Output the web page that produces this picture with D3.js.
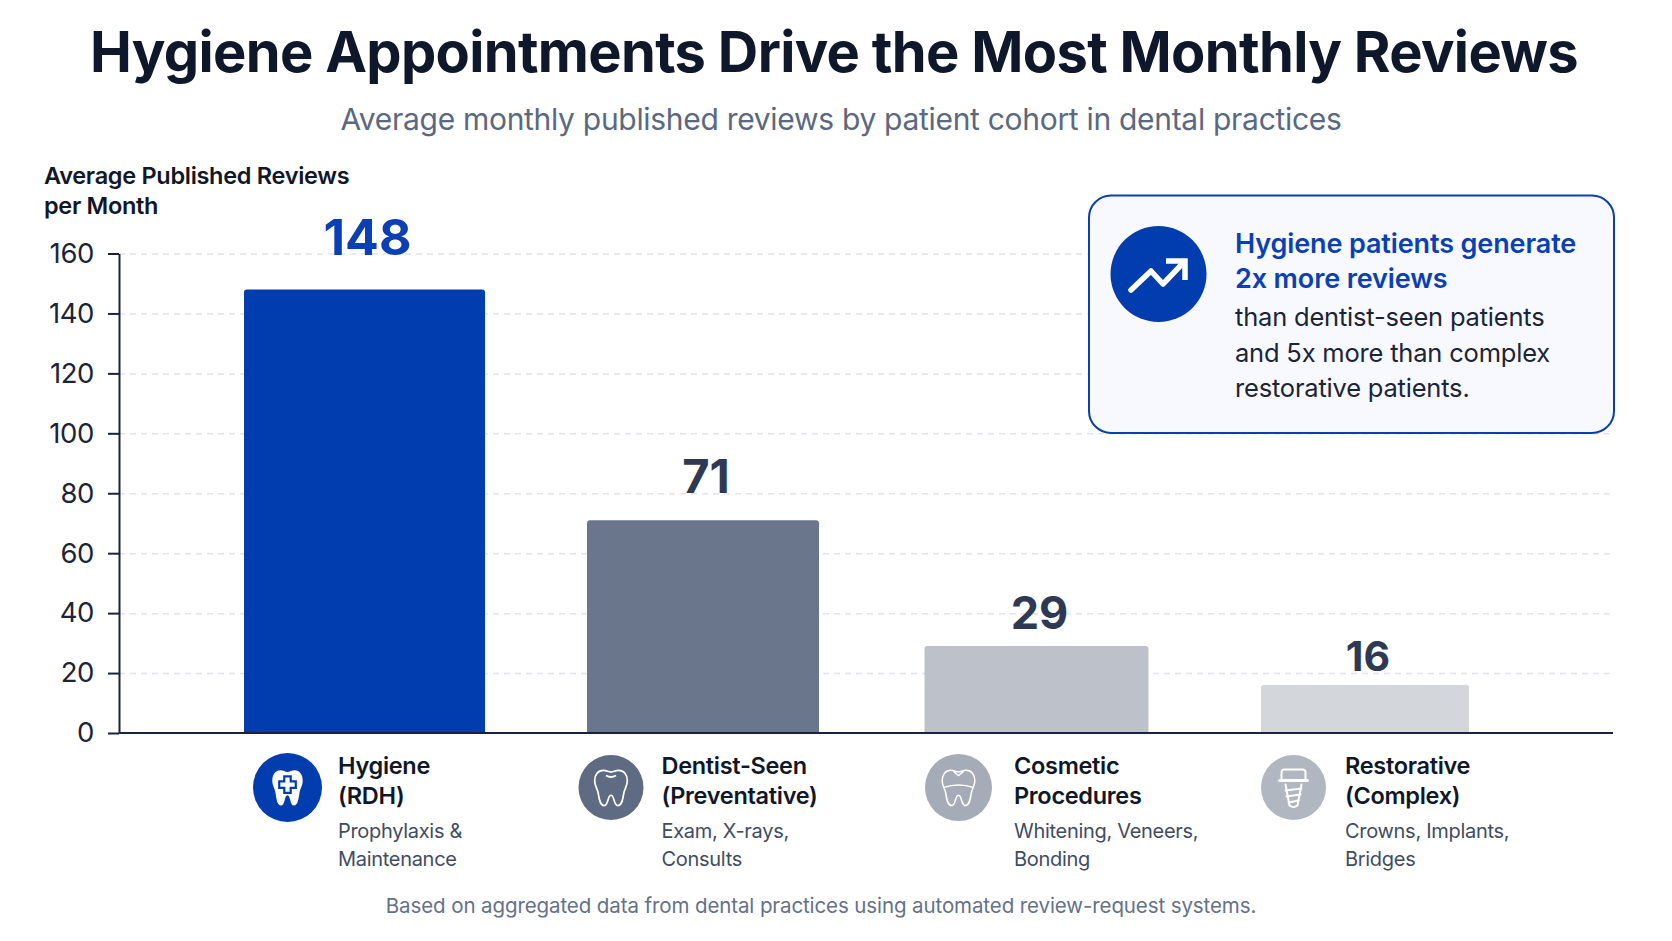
<!DOCTYPE html>
<html>
<head>
<meta charset="utf-8">
<script src="https://cdnjs.cloudflare.com/ajax/libs/d3/7.9.0/d3.min.js"></script>
<style>
  html, body { margin: 0; padding: 0; background: #fff; }
  svg { display: block; font-family: Inter, "Noto Sans", sans-serif; }
</style>
</head>
<body>
<svg id="chart" width="1672" height="941"></svg>
<script>
// Cohort data
const categories = ["Hygiene", "Dentist-Seen", "Cosmetic", "Restorative"];
const reviews = [148, 71, 29, 16];
const nameLines = [["Hygiene", "(RDH)"], ["Dentist-Seen", "(Preventative)"], ["Cosmetic", "Procedures"], ["Restorative", "(Complex)"]];
const detailLines = [["Prophylaxis &", "Maintenance"], ["Exam, X-rays,", "Consults"], ["Whitening, Veneers,", "Bonding"], ["Crowns, Implants,", "Bridges"]];
const yTicks = [0, 20, 40, 60, 80, 100, 120, 140, 160];

// Per-cohort presentation
const barColors = ["#023db0", "#69768c", "#bdc2ca", "#d3d6da"];
const badgeColors = ["#023db0", "#5f6b82", "#a5acb7", "#b1b7c0"];
const labelColors = ["#0b3fb6", "#2e3a55", "#2e3a55", "#2e3a55"];
const labelSizes = [50, 47, 45, 41];
const labelGaps = [34, 27, 17, 14];
const barWidths = [241, 232, 224, 208];
const barCenters = [364.5, 703, 1036.5, 1365];
const badgeCenters = [287.5, 611, 958.5, 1293.5];
const badgeRadii = [34.5, 32.5, 33.5, 32.5];
const textLefts = [338, 661.5, 1014, 1345];

const svg = d3.select("#chart");
const plotLeft = 119, plotRight = 1613, plotTop = 253.5, plotBottom = 733;
const ink = "#0f172a";

const y = d3.scaleLinear().domain([0, 160]).range([plotBottom, plotTop]);
const x = d3.scaleOrdinal().domain(categories).range(barCenters);
const idx = c => categories.indexOf(c);

// Headings
svg.append("text").attr("x", 834).attr("y", 72).attr("text-anchor", "middle")
  .attr("font-size", 56).attr("font-weight", 700).attr("letter-spacing", -0.67).attr("fill", ink)
  .text("Hygiene Appointments Drive the Most Monthly Reviews");
svg.append("text").attr("x", 841).attr("y", 129.5).attr("text-anchor", "middle")
  .attr("font-size", 30).attr("font-weight", 400).attr("letter-spacing", -0.3).attr("fill", "#5a6881")
  .text("Average monthly published reviews by patient cohort in dental practices");

// Axis title
svg.append("g").attr("font-size", 23.5).attr("font-weight", 600).attr("letter-spacing", -0.3).attr("fill", ink)
  .selectAll("text").data(["Average Published Reviews", "per Month"]).join("text")
  .attr("x", 44).attr("y", (d, i) => 184 + i * 30).text(d => d);

// Dashed gridlines
const grid = svg.append("g").attr("transform", `translate(${plotLeft},0)`)
  .call(d3.axisRight(y).tickValues(yTicks.slice(1)).tickSize(plotRight - plotLeft).tickFormat(""));
grid.select(".domain").remove();
grid.selectAll("line").attr("stroke", "#e1e4e9").attr("stroke-width", 1.5).attr("stroke-dasharray", "6 5");

// Bars with softly rounded top corners
const r = 3;
svg.append("g").selectAll("path").data(categories).join("path")
  .attr("fill", c => barColors[idx(c)])
  .attr("d", c => {
    const i = idx(c), w = barWidths[i], x0 = x(c) - w / 2, t = y(reviews[i]);
    return `M${x0},${plotBottom}V${t + r}Q${x0},${t} ${x0 + r},${t}H${x0 + w - r}Q${x0 + w},${t} ${x0 + w},${t + r}V${plotBottom}Z`;
  });

// Value labels
svg.append("g").attr("text-anchor", "middle").attr("font-weight", 700)
  .selectAll("text").data(categories).join("text")
  .attr("x", c => x(c) + 3)
  .attr("y", c => y(reviews[idx(c)]) - labelGaps[idx(c)])
  .attr("font-size", c => labelSizes[idx(c)])
  .attr("fill", c => labelColors[idx(c)])
  .text(c => reviews[idx(c)]);

// Left axis and baseline
const axis = svg.append("g").attr("transform", `translate(${plotLeft},0)`)
  .call(d3.axisLeft(y).tickValues(yTicks).tickSize(11).tickPadding(14).tickSizeOuter(0));
axis.select(".domain").attr("stroke", "#1b2240").attr("stroke-width", 2);
axis.selectAll("line").attr("stroke", "#1b2240").attr("stroke-width", 2);
axis.selectAll("text").attr("font-size", 27.5).attr("font-family", "Inter, sans-serif").attr("letter-spacing", -0.4).attr("fill", "#1c2438");
svg.append("line").attr("x1", plotLeft).attr("x2", plotRight).attr("y1", plotBottom).attr("y2", plotBottom)
  .attr("stroke", "#1b2240").attr("stroke-width", 2);

// Tooth outline on a 40 x 44 box centred at the origin
const toothPath = "M-9,-20C-15,-20 -19,-15 -19,-8C-19,-2 -16,1 -15,6C-14,12 -13,21 -8,21C-3,21 -4,9 0,9C4,9 3,21 8,21C13,21 14,12 15,6C16,1 19,-2 19,-8C19,-15 15,-20 9,-20C5,-20 3,-18 0,-18C-3,-18 -5,-20 -9,-20Z";
const crossPath = "M-3.5,-11H3.5V-5.5H9V1.5H3.5V7H-3.5V1.5H-9V-5.5H-3.5Z";

const drawIcon = {
  0(g) {
    g.append("path").attr("d", toothPath).attr("fill", "#fff").attr("transform", "scale(0.8,0.86)");
    g.append("path").attr("d", crossPath).attr("fill", "#fff").attr("stroke", "#023db0").attr("stroke-width", 2.4).attr("transform", "translate(0,-1) scale(0.92)");
  },
  1(g) {
    g.append("path").attr("d", toothPath).attr("fill", "none").attr("stroke", "#fff").attr("stroke-width", 2).attr("transform", "scale(0.86)");
    g.append("path").attr("d", "M-5,-12Q0,-9 5,-12").attr("fill", "none").attr("stroke", "#fff").attr("stroke-width", 2);
  },
  2(g) {
    g.append("path").attr("d", toothPath).attr("fill", "none").attr("stroke", "#fff").attr("stroke-width", 1.8).attr("transform", "scale(0.86)");
    g.append("path").attr("d", "M-5,-16L0,-12L5,-16M-15,0Q0,-5 15,0").attr("fill", "none").attr("stroke", "#fff").attr("stroke-width", 1.5);
  },
  3(g) {
    const s = g.append("g").attr("fill", "none").attr("stroke", "#fff").attr("stroke-width", 2).attr("stroke-linecap", "round");
    s.append("path").attr("d", "M-12,-8V-15Q-12,-18 -9,-18H9Q12,-18 12,-15V-8");
    s.append("path").attr("d", "M-14,-7H14").attr("stroke-width", 3);
    s.append("path").attr("d", "M-8,-3L-4,18Q0,21 4,18L8,-3");
    s.append("path").attr("d", "M-8,3L8,1M-7,9L7,7M-5,15L5,13");
  }
};

// Cohort badges and labels below the axis
const cohort = svg.append("g").selectAll("g").data(categories).join("g");
cohort.append("circle")
  .attr("cx", c => badgeCenters[idx(c)]).attr("cy", 787.5)
  .attr("r", c => badgeRadii[idx(c)]).attr("fill", c => badgeColors[idx(c)]);
cohort.append("g").attr("transform", c => `translate(${badgeCenters[idx(c)]},787.5)`)
  .each(function (c) { drawIcon[idx(c)](d3.select(this)); });
cohort.each(function (c) {
  const g = d3.select(this), i = idx(c);
  g.selectAll("text.name").data(nameLines[i]).join("text").attr("class", "name")
    .attr("x", textLefts[i]).attr("y", (d, k) => 774 + k * 29.5)
    .attr("font-size", 23.5).attr("font-weight", 600).attr("letter-spacing", -0.3).attr("fill", ink).text(d => d);
  g.selectAll("text.detail").data(detailLines[i]).join("text").attr("class", "detail")
    .attr("x", textLefts[i]).attr("y", (d, k) => 838 + k * 27.5)
    .attr("font-size", 20).attr("font-weight", 400).attr("letter-spacing", -0.3).attr("fill", "#414c62").text(d => d);
});

// Callout card
const card = svg.append("g");
card.append("rect").attr("x", 1089).attr("y", 195.5).attr("width", 525).attr("height", 237.5).attr("rx", 22)
  .attr("fill", "#f7f9fe").attr("stroke", "#0b3fb0").attr("stroke-width", 2);
card.append("circle").attr("cx", 1158.5).attr("cy", 274).attr("r", 48).attr("fill", "#023db0");
card.append("path").attr("d", "M1131,290L1151,271L1163,284L1184,262").attr("fill", "none")
  .attr("stroke", "#fff").attr("stroke-width", 5.5).attr("stroke-linecap", "round").attr("stroke-linejoin", "round");
card.append("path").attr("d", "M1166,261H1185V280").attr("fill", "none")
  .attr("stroke", "#fff").attr("stroke-width", 5.5).attr("stroke-linejoin", "miter");
card.selectAll("text.lead").data(["Hygiene patients generate", "2x more reviews"]).join("text")
  .attr("class", "lead").attr("x", 1235).attr("y", (d, i) => 253 + i * 35)
  .attr("font-size", 27).attr("font-weight", 600).attr("letter-spacing", -0.12).attr("fill", "#0b3fb6").text(d => d);
card.selectAll("text.rest").data(["than dentist-seen patients", "and 5x more than complex", "restorative patients."]).join("text")
  .attr("class", "rest").attr("x", 1235).attr("y", (d, i) => 326 + i * 35.5)
  .attr("font-size", 25.5).attr("font-weight", 400).attr("letter-spacing", -0.2).attr("fill", "#1b2438").text(d => d);

// Source note
svg.append("text").attr("x", 821).attr("y", 913).attr("text-anchor", "middle")
  .attr("font-size", 20.5).attr("letter-spacing", -0.1).attr("fill", "#64718a")
  .text("Based on aggregated data from dental practices using automated review-request systems.");
</script>
</body>
</html>
